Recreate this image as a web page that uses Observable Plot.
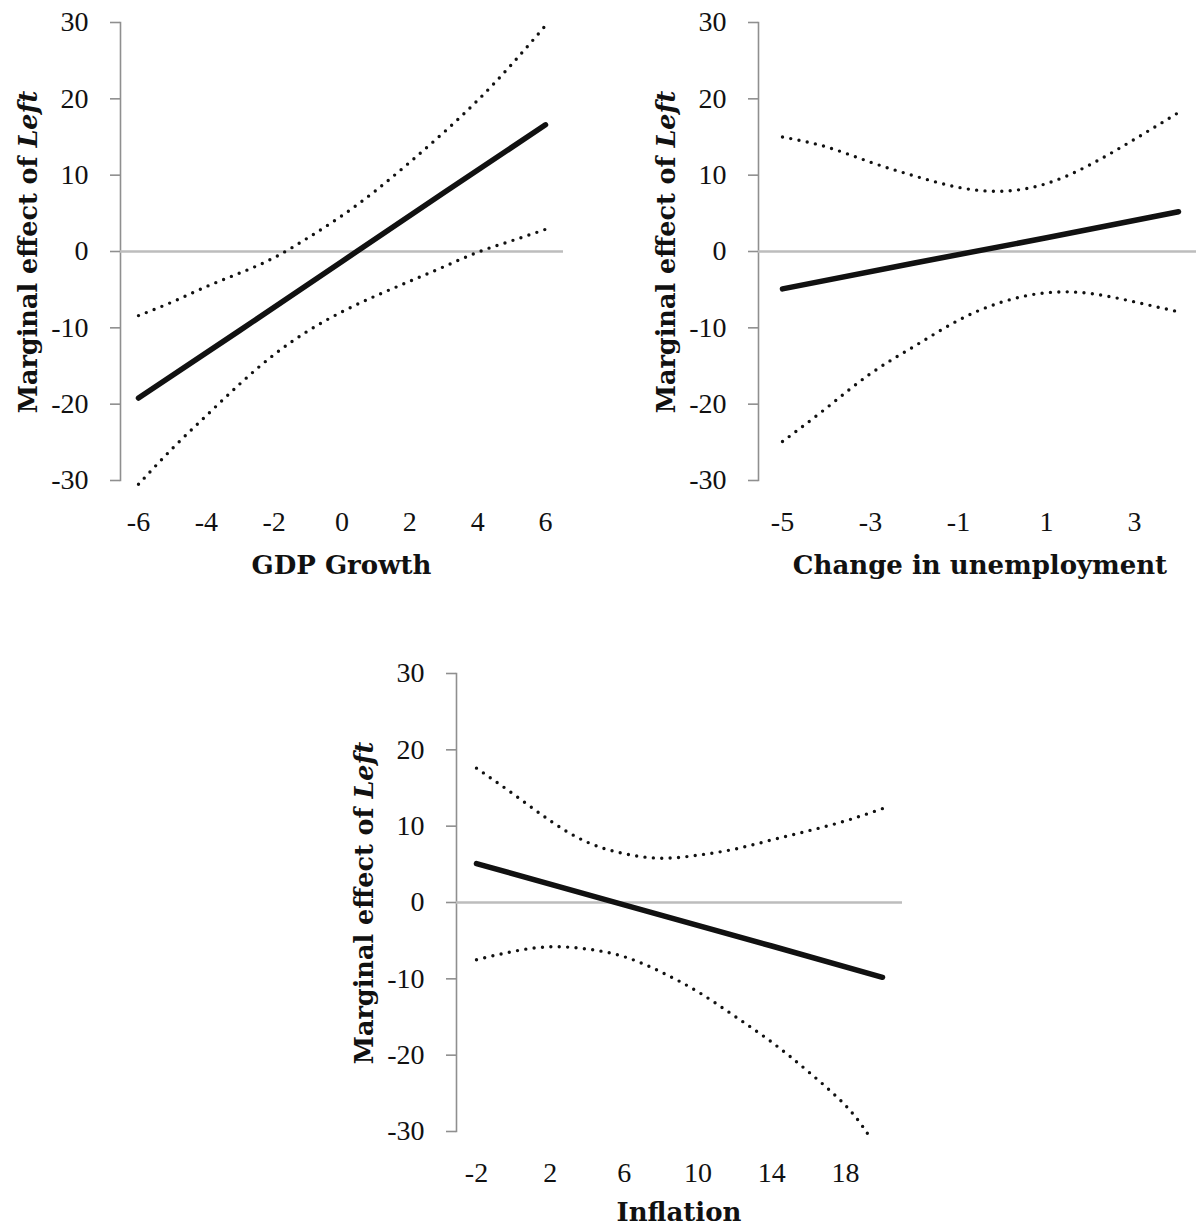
<!DOCTYPE html>
<html><head><meta charset="utf-8">
<script src="https://cdn.jsdelivr.net/npm/d3@7"></script>
<script src="https://cdn.jsdelivr.net/npm/@observablehq/plot@0.6"></script>
<style>
html,body{margin:0;padding:0;background:#fff;}
#wrap{position:relative;width:1196px;height:1228px;overflow:hidden;background:#fff;}
.panel{position:absolute;}
</style></head><body><div id="wrap"></div>
<script>
// ---- Data ----
const yTicks = [-30, -20, -10, 0, 10, 20, 30];
const yLabelMain = "Marginal effect of ";
const yLabelItalic = "Left";

// Panel 1: GDP Growth
const gdpTitle = "GDP Growth";
const gdpTicks = [-6, -4, -2, 0, 2, 4, 6];
const gdpLineX = [-6, -3, 0, 3, 6];
const gdpEffect = [-19.2, -10.3, -1.3, 7.7, 16.6];
const gdpBandX = [-6, -5, -4, -3, -2, -1, 0, 1, 2, 3, 4, 5, 6];
const gdpUpper = [-8.4, -6.6, -4.6, -2.8, -0.8, 1.8, 4.7, 8.0, 11.7, 15.6, 19.8, 24.5, 29.6];
const gdpLower = [-30.5, -25.8, -21.5, -17.3, -13.5, -10.4, -7.9, -5.8, -3.9, -2.0, -0.1, 1.4, 2.9];

// Panel 2: Change in unemployment
const unempTitle = "Change in unemployment";
const unempTicks = [-5, -3, -1, 1, 3];
const unempLineX = [-5, -2, 1, 4];
const unempEffect = [-4.9, -1.5, 1.8, 5.2];
const unempBandX = [-5, -4, -3, -2, -1, 0, 1, 2, 3, 4];
const unempUpper = [15.0, 13.7, 11.7, 9.9, 8.4, 7.9, 8.9, 11.4, 14.7, 18.2];
const unempLower = [-24.9, -20.5, -16.0, -12.4, -9.0, -6.6, -5.4, -5.5, -6.6, -7.9];

// Panel 3: Inflation
const inflTitle = "Inflation";
const inflTicks = [-2, 2, 6, 10, 14, 18];
const inflLineX = [-2, 6, 14, 20];
const inflEffect = [5.1, -0.3, -5.7, -9.8];
const inflUpperX = [-2, 0, 2, 4, 6, 8, 10, 12, 14, 16, 18, 20];
const inflUpper = [17.6, 14.2, 10.7, 7.9, 6.4, 5.8, 6.2, 7.0, 8.2, 9.4, 10.7, 12.3];
const inflLowerX = [-2, 0, 2, 4, 6, 8, 10, 12, 14, 16, 18, 19.2];
const inflLower = [-7.5, -6.4, -5.8, -6.1, -7.1, -9.1, -11.7, -14.9, -18.3, -22.2, -26.6, -30.3];

// ---- Drawing ----
const toRows = (xs, ys) => xs.map((x, i) => ({x, y: ys[i]}));
const AXIS = "#8f8f8f";
const INK = "#111";

function makePanel(cfg) {
  const H = cfg.height;
  const svg = Plot.plot({
    width: cfg.width,
    height: H,
    marginLeft: 120,
    marginRight: cfg.width - cfg.zeroEnd,
    marginTop: 22,
    marginBottom: H - 480,
    x: {domain: cfg.xDomain, range: cfg.xRange},
    y: {domain: [-30, 30], range: [480, 22]},
    style: {fontFamily: "'Liberation Serif', serif", fontSize: "28px", background: "transparent", color: INK},
    marks: [
      Plot.frame({anchor: "left", stroke: AXIS, strokeWidth: 1.6}),
      Plot.axisY({ticks: yTicks, tickSize: 10, tickPadding: 22, stroke: AXIS, strokeWidth: 1.6, fill: INK,
                  fontSize: 28, label: null, tickFormat: d => String(d)}),
      Plot.axisX({ticks: cfg.xTicks, tickSize: 0, tickPadding: 31, fill: INK, fontSize: 28,
                  label: null, tickFormat: d => String(d)}),
      Plot.ruleY([0], {stroke: "#bdbdbd", strokeWidth: 2.5}),
      Plot.line(toRows(cfg.upperX, cfg.upper), {x: "x", y: "y", curve: "natural", stroke: INK,
                strokeWidth: 3.4, strokeDasharray: "0,8.4", strokeLinecap: "round"}),
      Plot.line(toRows(cfg.lowerX, cfg.lower), {x: "x", y: "y", curve: "natural", stroke: INK,
                strokeWidth: 3.4, strokeDasharray: "0,8.4", strokeLinecap: "round"}),
      Plot.line(toRows(cfg.lineX, cfg.effect), {x: "x", y: "y", stroke: INK, strokeWidth: 5.5,
                strokeLinecap: "round"})
    ]
  });
  const s = d3.select(svg);
  const yl = s.append("text")
    .attr("transform", "translate(37,252) rotate(-90)")
    .attr("text-anchor", "middle")
    .attr("font-family", "'DejaVu Serif', serif")
    .attr("font-weight", "bold")
    .attr("font-size", 25.5)
    .attr("fill", INK);
  yl.append("tspan").text(yLabelMain);
  yl.append("tspan").attr("font-style", "italic").text(yLabelItalic);
  s.append("text")
    .attr("x", (cfg.xRange[0] + cfg.xRange[1]) / 2)
    .attr("y", cfg.titleY)
    .attr("text-anchor", "middle")
    .attr("font-family", "'DejaVu Serif', serif")
    .attr("font-weight", "bold")
    .attr("font-size", 26)
    .attr("fill", INK)
    .text(cfg.title);
  const div = document.createElement("div");
  div.className = "panel";
  div.style.left = cfg.left + "px";
  div.style.top = cfg.top + "px";
  div.appendChild(svg);
  document.getElementById("wrap").appendChild(div);
}

makePanel({left: 0, top: 0, width: 590, height: 600, zeroEnd: 563, titleY: 574,
  xDomain: [-6, 6], xRange: [138, 545], xTicks: gdpTicks, title: gdpTitle,
  lineX: gdpLineX, effect: gdpEffect, upperX: gdpBandX, upper: gdpUpper, lowerX: gdpBandX, lower: gdpLower});

makePanel({left: 638, top: 0, width: 558, height: 600, zeroEnd: 558, titleY: 574,
  xDomain: [-5, 4], xRange: [144, 540], xTicks: unempTicks, title: unempTitle,
  lineX: unempLineX, effect: unempEffect, upperX: unempBandX, upper: unempUpper, lowerX: unempBandX, lower: unempLower});

makePanel({left: 336, top: 651, width: 566, height: 577, zeroEnd: 566, titleY: 570,
  xDomain: [-2, 20], xRange: [140, 546], xTicks: inflTicks, title: inflTitle,
  lineX: inflLineX, effect: inflEffect, upperX: inflUpperX, upper: inflUpper, lowerX: inflLowerX, lower: inflLower});
</script></body></html>
